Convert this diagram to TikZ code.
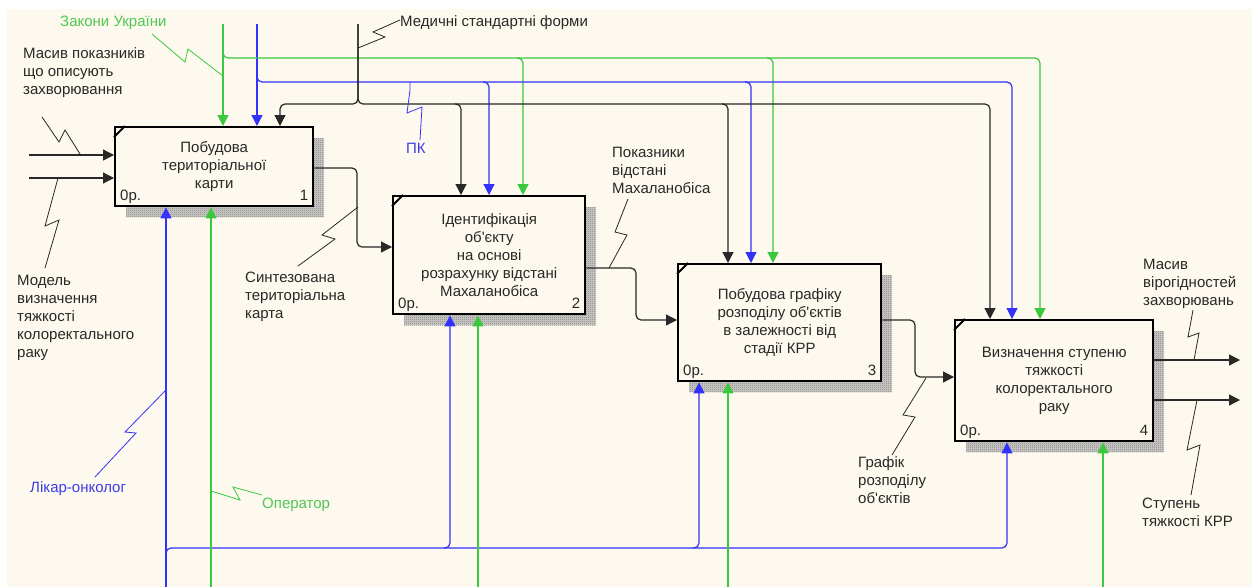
\documentclass[tikz,border=0pt]{standalone}
\usepackage{fontspec}
\newfontfamily\labfont{Liberation Sans}
\usetikzlibrary{arrows.meta,patterns,calc}
\definecolor{bg}{RGB}{253,249,239}
\definecolor{grn}{RGB}{60,200,60}
\definecolor{blu}{RGB}{50,50,250}
\definecolor{ink}{RGB}{40,40,40}
\definecolor{gtext}{RGB}{80,200,80}
\definecolor{btext}{RGB}{60,60,230}
\definecolor{shd}{RGB}{205,203,198}
\newcommand\myfnt{\labfont\fontsize{15}{18}\selectfont}
\pgfdeclarepatternformonly{checker}{\pgfqpoint{0pt}{0pt}}{\pgfqpoint{2pt}{2pt}}{\pgfqpoint{2pt}{2pt}}{%
  \pgfpathrectangle{\pgfqpoint{0pt}{0pt}}{\pgfqpoint{1pt}{1pt}}%
  \pgfpathrectangle{\pgfqpoint{1pt}{1pt}}{\pgfqpoint{1pt}{1pt}}%
  \pgfusepath{fill}}
\tikzset{
  box/.style={draw=black, line width=2.4pt, fill=bg, align=center, font=\myfnt, text=ink, anchor=north west},
  shadowfill/.style={fill=shd},
  shadow/.style={pattern=checker, pattern color=black!50},
  conn/.style={line width=1.2pt, rounded corners=5pt},
  arr/.style={conn, -{Triangle[length=11pt,width=11pt]}},
  kc/.style={draw=ink},
  gc/.style={draw=grn},
  bc/.style={draw=blu},
  squig/.style={line width=0.8pt},
  lbl/.style={font=\myfnt, align=left, inner sep=0pt, anchor=base west, text=ink},
  corner/.style={font=\myfnt, inner sep=0pt, text=ink}
}
\begin{document}
\begin{tikzpicture}[x=1pt,y=-1pt]
\useasboundingbox (0,0) rectangle (1252,587);
\fill[white] (0,0) rectangle (1252,587);
\fill[bg] (7,9) rectangle (1252,587);

% shadows
\foreach \a/\b/\c/\d in {126/138/324/217, 404/207/596/325, 689/275/892/392, 966/331/1164/452}{
  \fill[shadowfill] (\a,\b) rectangle (\c,\d);
  \fill[shadow] (\a,\b) rectangle (\c,\d);
}

% boxes
\node[box, minimum width=198pt, minimum height=79pt] (b1) at (114,126) {Побудова\\територіальної\\карти};
\node[box, minimum width=192pt, minimum height=118pt] (b2) at (392,195) {Ідентифікація\\об'єкту\\на основі\\розрахунку відстані\\Махаланобіса};
\node[box, minimum width=203pt, minimum height=117pt] (b3) at (677,263) {Побудова графіку\\розподілу об'єктів\\в залежності від\\стадії КРР};
\node[box, minimum width=198pt, minimum height=121pt] (b4) at (954,319) {Визначення ступеню\\тяжкості\\колоректального\\раку};

\foreach \n in {1,2,3,4}{
  \draw[line width=2pt] (b\n.north west) ++(0,11) -- ++(11,-11);
  \node[corner, anchor=base west] at ($(b\n.south west)+(6,-7)$) {0р.};
  \node[corner, anchor=base east] at ($(b\n.south east)+(-6,-7)$) {\n};
}

% controls
\coordinate (gT) at (223,24);
\coordinate (bT) at (257,24);
\coordinate (kT) at (358,24);
\draw[arr,gc] (gT) -- (gT |- b1.north);
\draw[arr,bc] (bT) -- (bT |- b1.north);

\coordinate (gJ) at (223,50);
\coordinate (gB) at (223,58);
\coordinate (gR) at (1040,58);
\coordinate (g2) at (517,58);
\coordinate (g2c) at (523,58);
\coordinate (g3) at (767,58);
\coordinate (g3c) at (773,58);
\draw[arr,gc] (gJ) -- (gB) -- (gR) -- (gR |- b4.north);
\draw[arr,gc] (g2) -- (g2c) -- (g2c |- b2.north);
\draw[arr,gc] (g3) -- (g3c) -- (g3c |- b3.north);

\coordinate (bJ) at (257,74);
\coordinate (bB) at (257,82);
\coordinate (bR) at (1012,82);
\coordinate (bl2) at (483,82);
\coordinate (bl2c) at (489,82);
\coordinate (bl3) at (745,82);
\coordinate (bl3c) at (751,82);
\draw[arr,bc] (bJ) -- (bB) -- (bR) -- (bR |- b4.north);
\draw[arr,bc] (bl2) -- (bl2c) -- (bl2c |- b2.north);
\draw[arr,bc] (bl3) -- (bl3c) -- (bl3c |- b3.north);

\coordinate (kJ) at (358,104);
\coordinate (kL) at (280,104);
\coordinate (kR) at (990,104);
\coordinate (k2) at (455,104);
\coordinate (k2c) at (461,104);
\coordinate (k3) at (722,104);
\coordinate (k3c) at (728,104);
\draw[arr,kc] (kT) -- (kJ) -- (kL) -- (kL |- b1.north);
\draw[arr,kc] (kT) -- (kJ) -- (kR) -- (kR |- b4.north);
\draw[arr,kc] (k2) -- (k2c) -- (k2c |- b2.north);
\draw[arr,kc] (k3) -- (k3c) -- (k3c |- b3.north);

% mechanisms
\coordinate (mB1) at (166,587);
\coordinate (mBJ) at (166,556);
\coordinate (mBC) at (166,548);
\coordinate (mBR) at (1007,548);
\coordinate (mB2) at (444,548);
\coordinate (mB2c) at (450,548);
\coordinate (mB3) at (693,548);
\coordinate (mB3c) at (699,548);
\draw[arr,bc] (mB1) -- (mB1 |- b1.south);
\draw[arr,bc] (mBJ) -- (mBC) -- (mBR) -- (mBR |- b4.south);
\draw[arr,bc] (mB2) -- (mB2c) -- (mB2c |- b2.south);
\draw[arr,bc] (mB3) -- (mB3c) -- (mB3c |- b3.south);

\coordinate (mG1) at (211,587);
\coordinate (mG2) at (478,587);
\coordinate (mG3) at (728,587);
\coordinate (mG4) at (1103,587);
\draw[arr,gc] (mG1) -- (mG1 |- b1.south);
\draw[arr,gc] (mG2) -- (mG2 |- b2.south);
\draw[arr,gc] (mG3) -- (mG3 |- b3.south);
\draw[arr,gc] (mG4) -- (mG4 |- b4.south);

% inputs
\coordinate (i1a) at (29,155);
\coordinate (i1b) at (29,178);
\draw[arr,kc] (i1a) -- (i1a -| b1.west);
\draw[arr,kc] (i1b) -- (i1b -| b1.west);

% flows between boxes
\coordinate (o1a) at (357,168);
\coordinate (o1b) at (357,247);
\draw[arr,kc] (o1a -| b1.east) -- (o1a) -- (o1b) -- (o1b -| b2.west);
\coordinate (o2a) at (636,268);
\coordinate (o2b) at (636,320);
\draw[arr,kc] (o2a -| b2.east) -- (o2a) -- (o2b) -- (o2b -| b3.west);
\coordinate (o3a) at (915,320);
\coordinate (o3b) at (915,377);
\draw[arr,kc] (o3a -| b3.east) -- (o3a) -- (o3b) -- (o3b -| b4.west);

% outputs
\coordinate (o4a) at (1240,360);
\coordinate (o4b) at (1240,400);
\draw[arr,kc] (o4a -| b4.east) -- (o4a);
\draw[arr,kc] (o4b -| b4.east) -- (o4b);

% squiggles
\draw[squig,ink] (42,117) -- (59,142) -- (65,130) -- (80,154);
\draw[squig,ink] (58,178) -- (45,226) -- (59,220) -- (45,268);
\draw[squig,grn] (152,34) -- (185,62) -- (188,49) -- (223,76);
\draw[squig,ink] (358,48) -- (385,37) -- (373,32) -- (400,20);
\draw[squig,blu] (410,82) -- (410,90) -- (407,113) -- (422,107) -- (420,140);
\draw[squig,ink] (298,266) -- (335,239) -- (322,235) -- (358,207);
\draw[squig,ink] (628,199) -- (615,232) -- (627,235) -- (609,268);
\draw[squig,ink] (926,378) -- (903,415) -- (915,417) -- (892,455);
\draw[squig,ink] (1193,310) -- (1188,337) -- (1199,333) -- (1194,360);
\draw[squig,ink] (1197,400) -- (1187,450) -- (1200,445) -- (1191,495);
\draw[squig,blu] (95,477) -- (136,433) -- (125,432) -- (166,390);
\draw[squig,grn] (211,491) -- (240,500) -- (233,487) -- (262,495);

% labels (base anchor = baseline of last line)
\node[lbl, text=gtext] (tZak) at (60,26) {Закони України};
\node[lbl] (tMas) at (23,94) {Масив показників\\що описують\\захворювання};
\node[lbl] (tMed) at (400,26) {Медичні стандартні форми};
\node[lbl, text=btext] (tPK) at (406,153) {ПК};
\node[lbl] (tPok) at (612,193) {Показники\\відстані\\Махаланобіса};
\node[lbl] (tMod) at (17,357) {Модель\\визначення\\тяжкості\\колоректального\\раку};
\node[lbl] (tSyn) at (245,318) {Синтезована\\територіальна\\карта};
\node[lbl] (tGra) at (858,503) {Графік\\розподілу\\об'єктів};
\node[lbl] (tVir) at (1143,305) {Масив\\вірогідностей\\захворювань};
\node[lbl] (tStu) at (1142,526) {Ступень\\тяжкості КРР};
\node[lbl, text=btext] (tLik) at (30,492) {Лікар-онколог};
\node[lbl, text=gtext] (tOpe) at (262,508) {Оператор};
\end{tikzpicture}
\end{document}
